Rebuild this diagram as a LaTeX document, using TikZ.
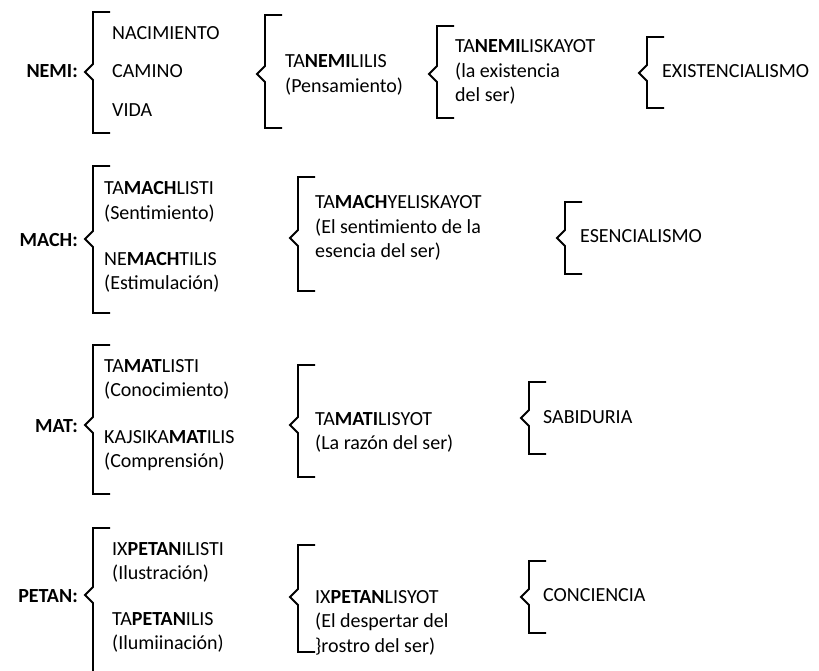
\documentclass[tikz,border=0pt]{standalone}
\usepackage{fontspec}
\setmainfont{Carlito}
\tikzset{
  lbl/.style={anchor=base east, inner sep=0pt, font=\bfseries},
  txt/.style={anchor=base west, inner sep=0pt},
  brk/.style={line width=1.8pt, line join=miter, line cap=butt},
}
% left bracket with a small notch: x, top, bottom, notch height
\newcommand\leftbrk[4]{%
  \draw[brk] (#1+17,#2) -- (#1,#2) -- (#1,#4-8) -- (#1-8,#4) -- (#1,#4+8) -- (#1,#3) -- (#1+17,#3);}
\begin{document}
\begin{tikzpicture}[x=1pt,y=-1pt]
\fontsize{20}{24.5}\selectfont
\useasboundingbox (0,0) rectangle (819,671);
\clip (0,0) rectangle (819,671);

% ---- NEMI ----
\node[lbl] (nemi) at (78,78) {NEMI:};
\leftbrk{93}{12}{133}{72}
\node[txt] (nemi1) at (112,40) {NACIMIENTO};
\node[txt] (nemi2) at (112,78) {CAMINO};
\node[txt] (nemi3) at (112,117) {VIDA};
\leftbrk{265}{15}{128}{74}
\node[txt] (nemiA1) at (285,68) {TA\textbf{NEMI}LILIS};
\node[txt] (nemiA2) at (285,92.5) {(Pensamiento)};
\leftbrk{437}{26}{118}{74}
\node[txt] (nemiB1) at (455,53) {TA\textbf{NEMI}LISKAYOT};
\node[txt] (nemiB2) at (455,77.5) {(la existencia};
\node[txt] (nemiB3) at (455,102) {del ser)};
\leftbrk{647}{37}{108}{73}
\node[txt] (nemiC) at (662,78) {EXISTENCIALISMO};

% ---- MACH ----
\node[lbl] (mach) at (78,247) {MACH:};
\leftbrk{93}{166}{313}{239}
\node[txt] (mach1) at (104,195) {TA\textbf{MACH}LISTI};
\node[txt] (mach2) at (104,219.5) {(Sentimiento)};
\node[txt] (mach3) at (104,265) {NE\textbf{MACH}TILIS};
\node[txt] (mach4) at (104,289.5) {(Estimulación)};
\leftbrk{298}{177}{291}{238}
\node[txt] (machA1) at (315,209) {TA\textbf{MACH}YELISKAYOT};
\node[txt] (machA2) at (315,233.5) {(El sentimiento de la};
\node[txt] (machA3) at (315,258) {esencia del ser)};
\leftbrk{565}{202}{274}{238}
\node[txt] (machB) at (580,243) {ESENCIALISMO};

% ---- MAT ----
\node[lbl] (mat) at (78,432) {MAT:};
\leftbrk{93}{345}{494}{425}
\node[txt] (mat1) at (104,372) {TA\textbf{MAT}LISTI};
\node[txt] (mat2) at (104,396.5) {(Conocimiento)};
\node[txt] (mat3) at (104,443) {KAJSIKA\textbf{MAT}ILIS};
\node[txt] (mat4) at (104,467.5) {(Comprensión)};
\leftbrk{298}{365}{477}{425}
\node[txt] (matA1) at (315,425) {TA\textbf{MATI}LISYOT};
\node[txt] (matA2) at (315,449.5) {(La razón del ser)};
\leftbrk{529}{382}{454}{418}
\node[txt] (matB) at (543,423) {SABIDURIA};

% ---- PETAN ----
\node[lbl] (petan) at (78,602) {PETAN:};
\leftbrk{93}{528}{690}{595}
\node[txt] (petan1) at (112,555) {IX\textbf{PETAN}ILISTI};
\node[txt] (petan2) at (112,579.5) {(Ilustración)};
\node[txt] (petan3) at (112,625) {TA\textbf{PETAN}ILIS};
\node[txt] (petan4) at (112,649.5) {(Ilumiinación)};
\leftbrk{298}{545}{652}{597}
\node[txt] (petanA1) at (315,603) {IX\textbf{PETAN}LISYOT};
\node[txt] (petanA2) at (315,627.5) {(El despertar del};
\node[txt] (petanA3) at (315,652) {\}rostro del ser)};
\leftbrk{529}{561}{633}{597}
\node[txt] (petanB) at (543,601) {CONCIENCIA};
\end{tikzpicture}
\end{document}
